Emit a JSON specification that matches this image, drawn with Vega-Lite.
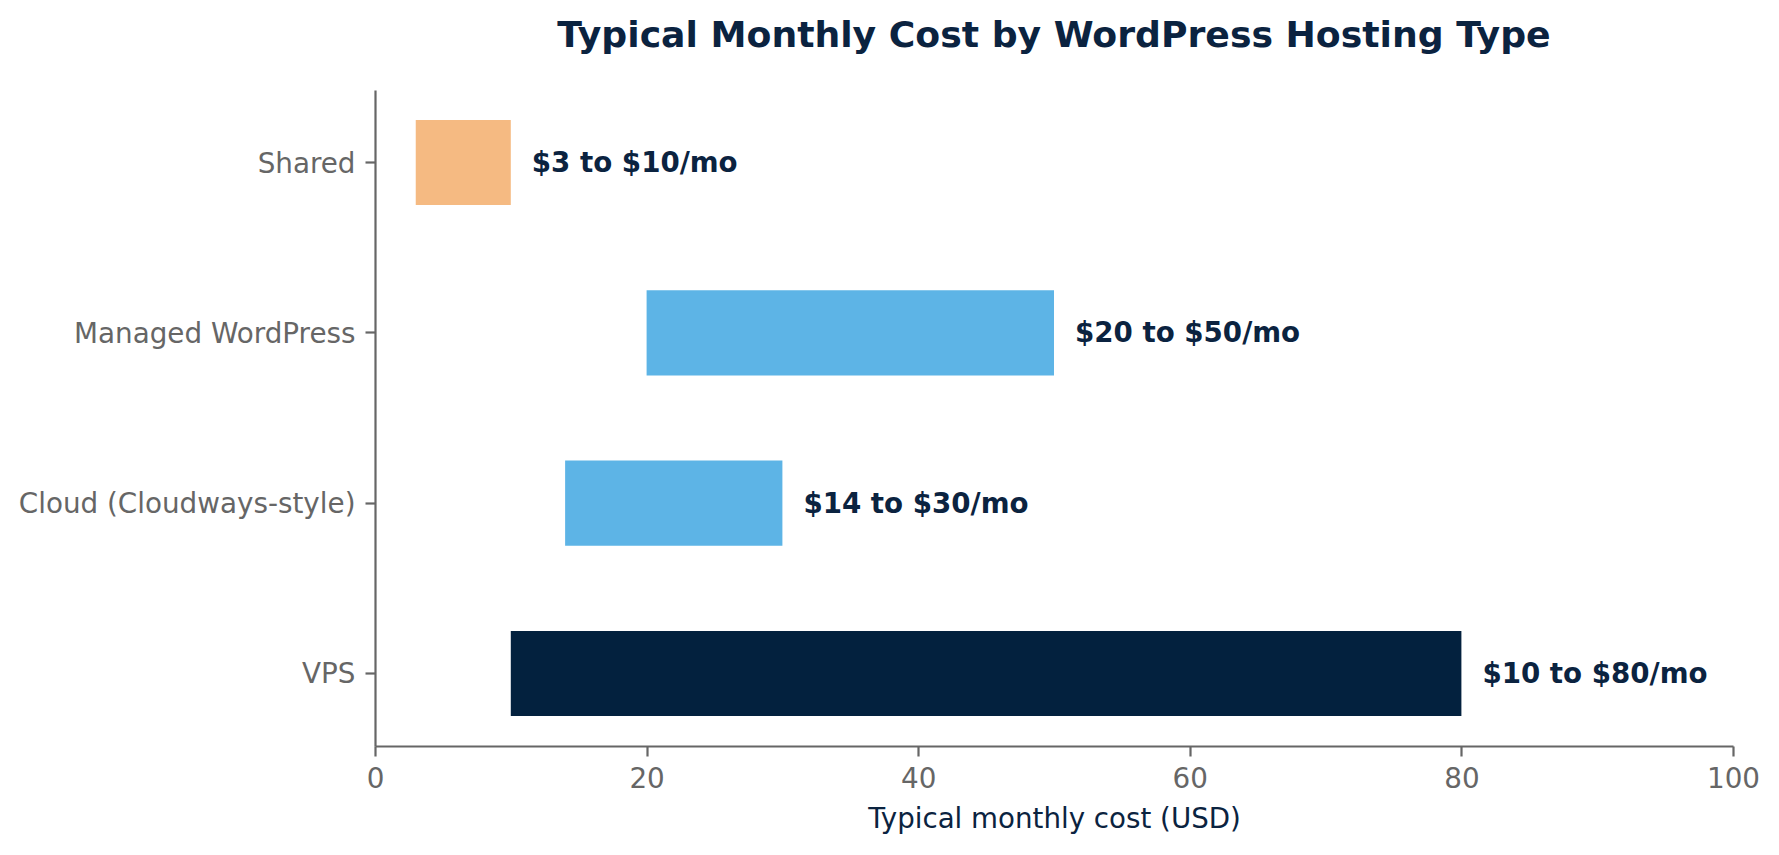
{
  "$schema": "https://vega.github.io/schema/vega-lite/v6.json",
  "autosize": "none",
  "padding": {"left": 375, "top": 90, "right": 46, "bottom": 109},
  "width": 1358,
  "height": 656,
  "background": "white",
  "title": {
    "text": "Typical Monthly Cost by WordPress Hosting Type",
    "font": "DejaVu Sans",
    "fontSize": 36.2,
    "fontWeight": "bold",
    "color": "#0b2340",
    "anchor": "middle",
    "baseline": "alphabetic",
    "offset": 7
  },
  "config": {
    "view": {"stroke": null},
    "font": "DejaVu Sans"
  },
  "data": {
    "values": [
      {"type": "Shared", "low": 3, "high": 10, "label": "$3 to $10/mo", "group": "shared"},
      {"type": "Managed WordPress", "low": 20, "high": 50, "label": "$20 to $50/mo", "group": "mid"},
      {"type": "Cloud (Cloudways-style)", "low": 14, "high": 30, "label": "$14 to $30/mo", "group": "mid"},
      {"type": "VPS", "low": 10, "high": 80, "label": "$10 to $80/mo", "group": "vps"}
    ]
  },
  "encoding": {
    "y": {
      "field": "type",
      "type": "nominal",
      "sort": ["Shared", "Managed WordPress", "Cloud (Cloudways-style)", "VPS"],
      "scale": {"paddingInner": 0.5, "paddingOuter": 0.176},
      "axis": {
        "title": null,
        "labelFont": "DejaVu Sans",
        "labelFontSize": 27.8,
        "labelColor": "#666666",
        "labelPadding": 10,
        "labelLimit": 500,
        "labelBaseline": "middle",
        "labelOffset": 2,
        "tickSize": 10,
        "tickWidth": 2.2,
        "tickColor": "#666666",
        "domainColor": "#666666",
        "domainWidth": 2.2,
        "grid": false
      }
    }
  },
  "layer": [
    {
      "mark": {"type": "bar"},
      "encoding": {
        "x": {
          "field": "low",
          "type": "quantitative",
          "scale": {"domain": [0, 100], "nice": false},
          "axis": {
            "title": "Typical monthly cost (USD)",
            "titleFont": "DejaVu Sans",
            "titleFontSize": 27.7,
            "titleFontWeight": "normal",
            "titleColor": "#0b2340",
            "titleBaseline": "alphabetic",
            "titleY": 81,
            "values": [0, 20, 40, 60, 80, 100],
            "labelFont": "DejaVu Sans",
            "labelFontSize": 27.8,
            "labelColor": "#666666",
            "labelPadding": 9,
            "labelFlush": false,
            "tickSize": 10,
            "tickWidth": 2.2,
            "tickColor": "#666666",
            "domainColor": "#666666",
            "domainWidth": 2.2,
            "grid": false
          }
        },
        "x2": {"field": "high"},
        "color": {
          "field": "group",
          "type": "nominal",
          "scale": {"domain": ["shared", "mid", "vps"], "range": ["#f5ba82", "#5db4e6", "#03213e"]},
          "legend": null
        }
      }
    },
    {
      "mark": {
        "type": "text",
        "align": "left",
        "baseline": "middle",
        "dx": 21,
        "dy": 1.5,
        "font": "DejaVu Sans",
        "fontSize": 27.7,
        "fontWeight": "bold",
        "color": "#0b2340"
      },
      "encoding": {
        "x": {"field": "high", "type": "quantitative"},
        "text": {"field": "label"}
      }
    }
  ]
}
